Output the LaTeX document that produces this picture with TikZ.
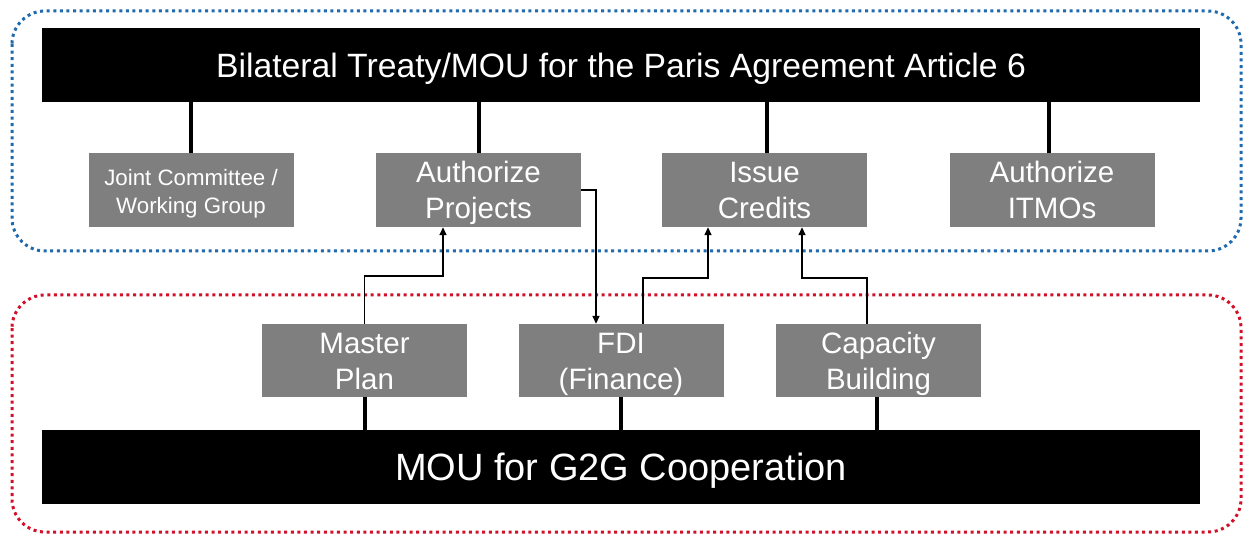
\documentclass[tikz,border=0pt]{standalone}
\usepackage{fontspec}
\setmainfont{Liberation Sans}
\usetikzlibrary{arrows.meta}
\definecolor{frameblue}{HTML}{1F6AAE}
\definecolor{framered}{HTML}{D3102A}
\definecolor{boxgray}{HTML}{7F7F7F}
\newcommand\lowtext[2][3.5pt]{\raisebox{-#1}[\height][\depth]{\begin{tabular}{@{}c@{}}#2\end{tabular}}}
\tikzset{
  bar/.style={fill=black, draw=none, text=white, minimum width=1158pt, minimum height=74pt, inner sep=0pt,
    font=\fontsize{33.7}{40}\selectfont},
  graybox/.style={fill=boxgray, draw=none, text=white, minimum width=205pt, minimum height=74pt, inner sep=0pt,
    font=\fontsize{29.5}{36.3}\selectfont},
  smallgray/.style={graybox, font=\fontsize{22.3}{28}\selectfont},
  stem/.style={line width=4pt, black},
  arr/.style={line width=1.5pt, black, -{Triangle[length=8pt,width=7pt]}},
  frame/.style={line width=3pt, dash pattern=on 3pt off 3.6pt, rounded corners=33pt},
}
\begin{document}
\begin{tikzpicture}[x=1pt,y=-1pt]
\useasboundingbox (0,0) rectangle (1246,534);
% frames
\draw[frame, frameblue] (12,11) rectangle (1241,251);
\draw[frame, framered] (12,295) rectangle (1241,532);
% bars
\node[bar] (top) at (621,65) {\lowtext[5pt]{Bilateral Treaty/MOU for the Paris Agreement Article 6}};
\node[bar, font=\fontsize{38}{44}\selectfont] (bot) at (621,467) {\lowtext[5pt]{MOU for G2G Cooperation}};
% top row
\node[smallgray] (jc) at (191,190) {\lowtext{Joint Committee /\\Working Group}};
\node[graybox] (ap) at (478.5,190) {\lowtext{Authorize\\Projects}};
\node[graybox] (ic) at (764.5,190) {\lowtext{Issue\\Credits}};
\node[graybox] (it) at (1052,190) {\lowtext{Authorize\\ITMOs}};
% bottom row
\node[graybox, minimum height=73pt] (mp) at (364.5,360.5) {\lowtext{Master\\Plan}};
\node[graybox, minimum height=73pt] (fdi) at (621,360.5) {\lowtext{FDI\\(Finance)}};
\node[graybox, minimum height=73pt] (cb) at (878.5,360.5) {\lowtext{Capacity\\Building}};
% stems
\draw[stem] (jc.north) -- (jc.north |- top.south);
\draw[stem] (ap.north) -- (ap.north |- top.south);
\draw[stem] ([xshift=2.5pt]ic.north) -- ([xshift=2.5pt]ic.north |- top.south);
\draw[stem] ([xshift=-3pt]it.north) -- ([xshift=-3pt]it.north |- top.south);
\draw[stem] (mp.south) -- (mp.south |- bot.north);
\draw[stem] (fdi.south) -- (fdi.south |- bot.north);
\draw[stem] ([xshift=-1.5pt]cb.south) -- ([xshift=-1.5pt]cb.south |- bot.north);
% arrows
\coordinate (m1) at (364.5,276);
\draw[arr] (mp.north) -- (m1) -| ([xshift=-35.5pt]ap.south);
\draw[arr] (ap.east) -| ([xshift=-25pt]fdi.north);
\coordinate (f1) at (643,278);
\draw[arr] ([xshift=22pt]fdi.north) -- (f1) -| ([xshift=-56.5pt]ic.south);
\coordinate (c1) at (867,278);
\draw[arr] ([xshift=-11.5pt]cb.north) -- (c1) -| ([xshift=37.5pt]ic.south);
\end{tikzpicture}
\end{document}
